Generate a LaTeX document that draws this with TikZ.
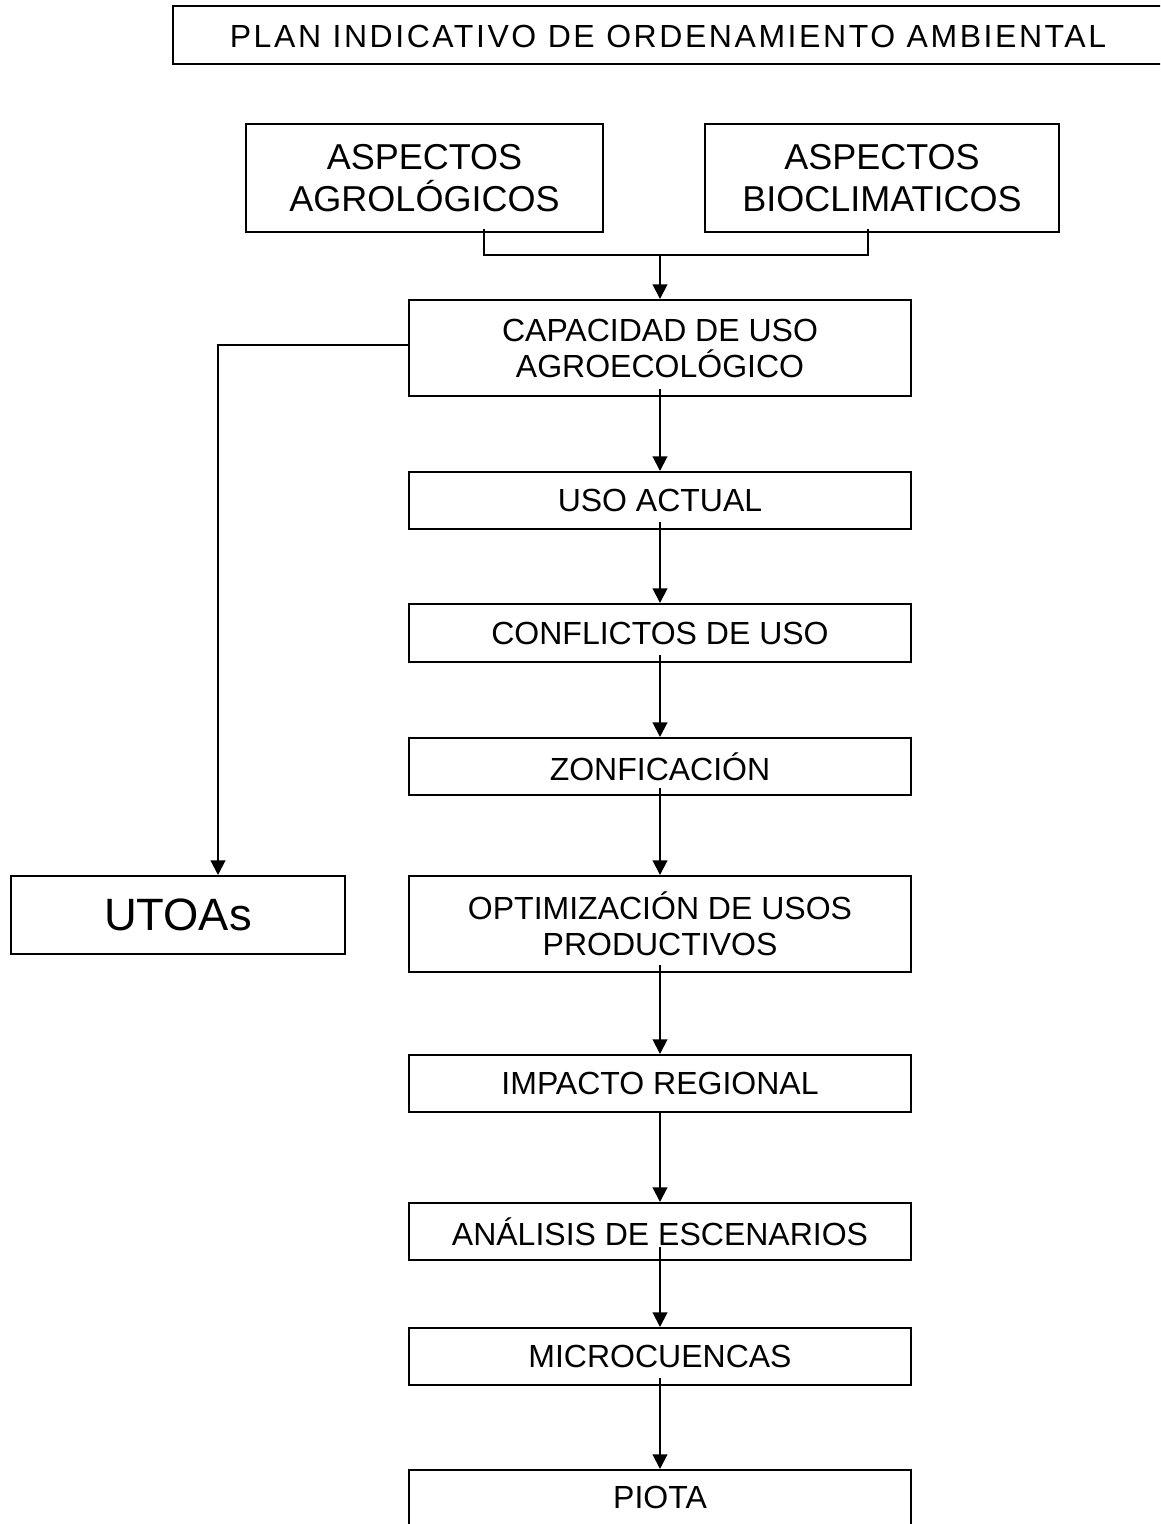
\documentclass[tikz,border=0pt]{standalone}
\usepackage{fontspec}
\setmainfont{Liberation Sans}
\newfontfamily\titlefont[LetterSpace=8]{Liberation Sans}
\usetikzlibrary{arrows.meta,calc}
\tikzset{
  box/.style={draw, line width=1.5pt, rectangle, align=center, inner sep=0pt},
  mainbox/.style={box, minimum width=376.5pt, font=\fontsize{24}{27}\selectfont},
  conn/.style={line width=1.5pt},
  arr/.style={conn, -{Triangle[length=11pt,width=11pt]}}
}
\begin{document}
\begin{tikzpicture}[x=0.75pt,y=-0.75pt]
\useasboundingbox (0,0) rectangle (1160,1524);
\clip (0,0) rectangle (1160,1524);
\fill[white] (0,0) rectangle (1160,1524);
% title
\node[box, minimum width=747.75pt, minimum height=43.5pt] (titlebox) at (671.5,35) {};
\node[font=\titlefont\fontsize{24}{27}\selectfont] (title) at (668,36) {PLAN INDICATIVO DE ORDENAMIENTO AMBIENTAL};
% top boxes
\node[box, minimum width=267.75pt, minimum height=81pt, font=\fontsize{27}{32}\selectfont] (agro) at (424.5,178) {ASPECTOS\\AGROLÓGICOS};
\node[box, minimum width=265.5pt, minimum height=81pt, font=\fontsize{27}{32}\selectfont] (bio) at (882,178) {ASPECTOS\\BIOCLIMATICOS};
% main column
\node[mainbox, minimum height=72pt] (cap) at (660,348) {CAPACIDAD DE USO\\AGROECOLÓGICO};
\node[mainbox, minimum height=42.75pt] (uso) at (660,500.5) {USO ACTUAL};
\node[mainbox, minimum height=43.5pt] (conf) at (660,633) {CONFLICTOS DE USO};
\node[mainbox, minimum height=42.75pt] (zon) at (660,766.5) {ZONFICACIÓN};
\node[mainbox, minimum height=72pt] (opt) at (660,924) {OPTIMIZACIÓN DE USOS\\PRODUCTIVOS};
\node[mainbox, minimum height=42.75pt] (imp) at (660,1083.5) {IMPACTO REGIONAL};
\node[mainbox, minimum height=42.75pt] (ana) at (660,1231.5) {ANÁLISIS DE ESCENARIOS};
\node[mainbox, minimum height=42.75pt] (micro) at (660,1356.5) {MICROCUENCAS};
\node[mainbox, minimum height=45pt] (piota) at (660,1500) {};
\node[font=\fontsize{24}{27}\selectfont] (piotatext) at (660,1497) {PIOTA};
% side box
\node[box, minimum width=250.5pt, minimum height=58.5pt, font=\fontsize{34}{40}\selectfont] (utoas) at (178,915) {UTOAs};
% connectors
\coordinate (join) at ($(cap.north)+(0,-44)$);
\draw[conn] ($(agro.south)+(59.5,-4)$) |- (join) -| ($(bio.south)+(-14,-4)$);
\draw[arr] (join) -- (cap.north);
\draw[arr] ($(cap.west)+(0,-3)$) -| ($(utoas.north)+(40,0)$);
\draw[arr] ($(cap.south)+(0,-8)$) -- (uso.north);
\draw[arr] ($(uso.south)+(0,-8)$) -- (conf.north);
\draw[arr] ($(conf.south)+(0,-8)$) -- (zon.north);
\draw[arr] ($(zon.south)+(0,-8)$) -- (opt.north);
\draw[arr] ($(opt.south)+(0,-8)$) -- (imp.north);
\draw[arr] (imp.south) -- (ana.north);
\draw[arr] ($(ana.south)+(0,-14)$) -- (micro.north);
\draw[arr] ($(micro.south)+(0,-8)$) -- (piota.north);
\end{tikzpicture}
\end{document}
